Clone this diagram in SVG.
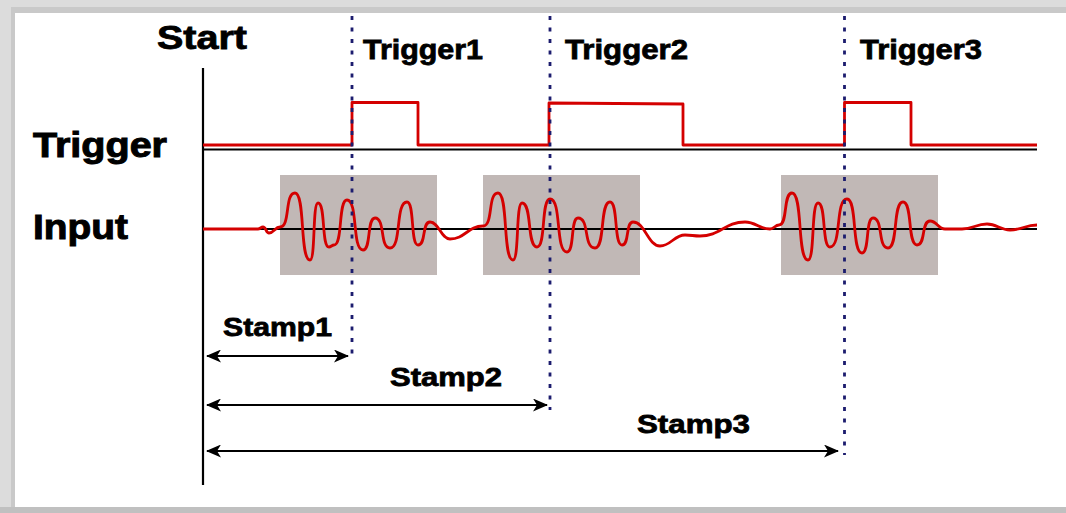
<svg xmlns="http://www.w3.org/2000/svg" width="1066" height="513" viewBox="0 0 1066 513">
<style>
.lbl{font-family:"Liberation Sans","DejaVu Sans",Arial,sans-serif;font-weight:bold;fill:#000;stroke:#000;stroke-width:0.8}
.big{font-size:35px;stroke-width:1}
.trg{font-size:28px}
.stp{font-size:26px}
.axis{stroke:#000;stroke-width:2.2;fill:none}
.sig{stroke:#d40000;stroke-width:2.8;fill:none;stroke-linejoin:round}
.dot{stroke:#1c1c6e;stroke-width:2.8;stroke-dasharray:4 7.5;fill:none}
.box{fill:#c1b8b6}
.arr{stroke:#000;stroke-width:2;fill:none;marker-start:url(#ah);marker-end:url(#ah)}
</style>
<defs>
<marker id="ah" viewBox="0 0 15 13" markerWidth="15" markerHeight="13" refX="14" refY="6.5" orient="auto-start-reverse" markerUnits="userSpaceOnUse">
<path d="M0,0 L15,6.5 L0,13 L4,6.5 Z" fill="#000"/>
</marker>
</defs>
<g id="frame">
<rect x="0" y="0" width="1066" height="513" fill="#dcdcdc"/>
<rect x="11" y="7" width="1055" height="500" fill="#c9c9c9"/>
<rect x="15" y="13" width="1051" height="494" fill="#ffffff"/>
<rect x="0" y="507" width="1066" height="6" fill="#c0c0c0"/>
</g>
<g id="gray-boxes">
<rect id="box1" class="box" x="280" y="175" width="157" height="100"/>
<rect id="box2" class="box" x="483" y="175" width="157" height="100"/>
<rect id="box3" class="box" x="781" y="175" width="157" height="100"/>
</g>
<g id="axes">
<line class="axis" x1="203" y1="68" x2="203" y2="485" stroke-width="2.5"/>
<line class="axis" x1="203" y1="149.5" x2="1037" y2="149.5"/>
<line class="axis" x1="203" y1="229" x2="1037" y2="229"/>
</g>
<g id="trigger-signal">
<path class="sig" d="M203,145 L352,145 L352,102.5 L418,102.5 L418,145 L549,145 L549,103 L683,104 L683,145 L844.5,145 L844.5,102.5 L911,102.5 L911,145 L1037,145"/>
</g>
<g id="input-signal">
<path class="sig" d="M203,229 L258,229 C260,229 261,227 263,227 C266,227 266,233 269,233 C274,233 275,227 280,227 C290.5,227 284.5,193 295,193 C305.5,193 299.5,260 310,260 C315.6,260 312.4,203 318,203 C325.7,203 321.3,247 329,247 C331,247 332,245 334,245 C343.1,245 337.9,200 347,200 C358.2,200 351.8,250 363,250 C371.4,250 366.6,218 375,218 C385.5,218 379.5,248 390,248 C401.9,248 395.1,202 407,202 C414.7,202 410.3,245 418,245 C426.4,245 421.6,222 430,222 C439,222 441,239 450,239 C465,239 468,226 483,226 C493.5,226 487.5,193 498,193 C508.5,193 502.5,260 513,260 C519.3,260 515.7,203 522,203 C532.5,203 526.5,247 537,247 C546.1,247 540.9,199 550,199 C561.9,199 555.1,252 567,252 C574.7,252 570.3,218 578,218 C589.9,218 583.1,248 595,248 C605.5,248 599.5,202 610,202 C618.4,202 613.6,245 622,245 C629.7,245 625.3,222 633,222 C645,222 648,246 660,246 C671,246 674,235 685,235 C692,235 693,236 700,236 C720,236 725,222 745,222 C756,222 759,229 770,229 C774,229 775,225 779,225 C788.1,225 782.9,193 792,193 C803.2,193 796.8,260 808,260 C815,260 811,203 818,203 C826.4,203 821.6,247 830,247 C841.9,247 835.1,199 847,199 C857.5,199 851.5,253 862,253 C869.7,253 865.3,218 873,218 C883.5,218 877.5,248 888,248 C898.5,248 892.5,202 903,202 C912.8,202 907.2,245 917,245 C926.1,245 920.9,221 930,221 C937,221 938,229 945,229 L962,229 C973,229 976,224 987,224 C997,224 1000,230 1010,230 C1022,230 1025,225 1037,225"/>
</g>
<g id="trigger-markers">
<line class="dot" x1="352" y1="16" x2="352" y2="358"/>
<line class="dot" x1="550" y1="16" x2="550" y2="410"/>
<line class="dot" x1="844.5" y1="16" x2="844.5" y2="455"/>
</g>
<g id="connectors">
<line class="arr" x1="207" y1="356" x2="348" y2="356"/>
<line class="arr" x1="207" y1="405" x2="547" y2="405"/>
<line class="arr" x1="207" y1="451" x2="838" y2="451"/>
</g>
<g id="labels">
<text id="start" class="lbl" x="157" y="49" font-size="33" stroke-width="1" textLength="90" lengthAdjust="spacingAndGlyphs">Start</text>
<text id="trigger" class="lbl big" x="33" y="157" textLength="134" lengthAdjust="spacingAndGlyphs">Trigger</text>
<text id="input" class="lbl big" x="33" y="239" textLength="95" lengthAdjust="spacingAndGlyphs">Input</text>
<text id="trigger1" class="lbl trg" x="363" y="59" textLength="120" lengthAdjust="spacingAndGlyphs">Trigger1</text>
<text id="trigger2" class="lbl trg" x="565" y="59" textLength="123" lengthAdjust="spacingAndGlyphs">Trigger2</text>
<text id="trigger3" class="lbl trg" x="860" y="59" textLength="122" lengthAdjust="spacingAndGlyphs">Trigger3</text>
<text id="stamp1" class="lbl stp" x="223" y="336" textLength="109" lengthAdjust="spacingAndGlyphs">Stamp1</text>
<text id="stamp2" class="lbl stp" x="390" y="386" textLength="112" lengthAdjust="spacingAndGlyphs">Stamp2</text>
<text id="stamp3" class="lbl stp" x="637" y="433" textLength="113" lengthAdjust="spacingAndGlyphs">Stamp3</text>
</g>
</svg>
